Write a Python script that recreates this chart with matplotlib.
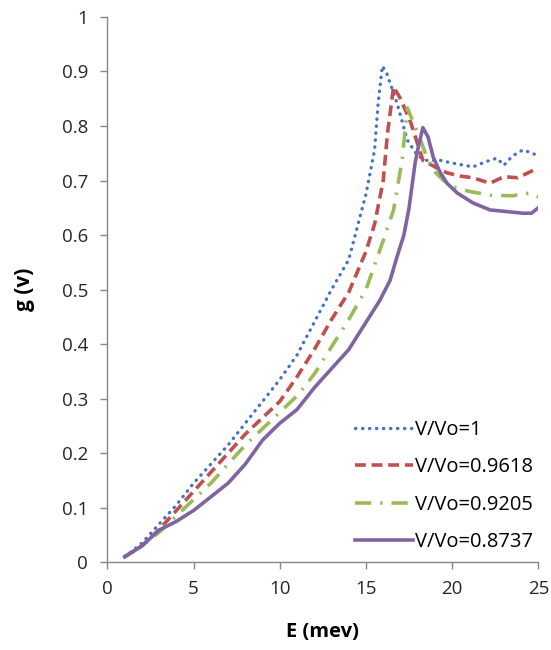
import matplotlib
matplotlib.use("Agg")
import matplotlib.pyplot as plt

# V/Vo = 1
x1 = [1, 2, 3, 4, 5, 6, 7, 8, 9, 10, 11, 12, 13, 14, 15, 15.5, 15.7, 15.95,
      16.2, 16.8, 17.4, 18, 18.5, 19.3, 20, 21.2, 22, 22.6, 23, 23.5, 24.1, 24.5, 25]
y1 = [0.01, 0.035, 0.07, 0.105, 0.145, 0.18, 0.215, 0.255, 0.295, 0.335, 0.38,
      0.44, 0.5, 0.555, 0.675, 0.756, 0.84, 0.91, 0.897, 0.842, 0.774, 0.745,
      0.737, 0.737, 0.732, 0.725, 0.735, 0.741, 0.728, 0.745, 0.756, 0.752, 0.745]

# V/Vo = 0.9618
x2 = [1, 2, 3, 4, 5, 6, 7, 8, 9, 10, 11, 12, 13, 14, 15, 15.5, 16, 16.25, 16.6,
      17, 17.6, 18.3, 19, 19.7, 20.5, 21.2, 22.2, 23, 23.8, 24.4, 25]
y2 = [0.01, 0.03, 0.06, 0.095, 0.13, 0.165, 0.2, 0.235, 0.265, 0.295, 0.34,
      0.39, 0.445, 0.495, 0.57, 0.62, 0.7, 0.787, 0.872, 0.85, 0.806, 0.737,
      0.725, 0.714, 0.708, 0.705, 0.695, 0.707, 0.705, 0.714, 0.723]

# V/Vo = 0.9205
x3 = [1, 2, 3, 4, 5, 6, 7, 8, 9, 10, 11, 12, 13, 14, 15, 16, 16.6, 17.1, 17.4,
      17.7, 18.1, 18.5, 18.9, 19.5, 20.1, 21, 22.2, 23.5, 24.5, 25]
y3 = [0.01, 0.03, 0.055, 0.085, 0.115, 0.145, 0.18, 0.215, 0.245, 0.275, 0.305,
      0.345, 0.395, 0.445, 0.5, 0.59, 0.646, 0.738, 0.833, 0.81, 0.78, 0.745,
      0.719, 0.70, 0.688, 0.68, 0.673, 0.672, 0.677, 0.67]

# V/Vo = 0.8737
x4 = [1, 2, 3, 4, 5, 6, 7, 8, 9, 10, 11, 12, 13, 14, 15, 15.8, 16.4, 16.8, 17.2,
      17.5, 17.85, 18.0, 18.3, 18.6, 18.9, 19.3, 19.7, 20.3, 21.2, 22.2, 23.5,
      24.1, 24.6, 25]
y4 = [0.01, 0.03, 0.059, 0.075, 0.095, 0.12, 0.145, 0.18, 0.224, 0.255, 0.28,
      0.32, 0.355, 0.39, 0.44, 0.48, 0.517, 0.56, 0.6, 0.65, 0.732, 0.756,
      0.797, 0.78, 0.743, 0.715, 0.695, 0.677, 0.659, 0.646, 0.642, 0.64, 0.64,
      0.65]

labels = ["V/Vo=1", "V/Vo=0.9618", "V/Vo=0.9205", "V/Vo=0.8737"]

plt.rcParams['font.family'] = ['Open Sans', 'DejaVu Sans']

fig = plt.figure(figsize=(5.51, 6.5), dpi=100)
ax = fig.add_axes([0.195, 0.135, 0.782, 0.839])

ax.plot(x1, y1, color='#4472C4', linewidth=2.4, linestyle=(0, (0.1, 2.0)),
        dash_capstyle='round', label=labels[0])
ax.plot(x2, y2, color='#C0504D', linewidth=2.6, linestyle=(0, (3.0, 1.6)),
        label=labels[1])
ax.plot(x3, y3, color='#9BBB59', linewidth=2.6,
        linestyle=(0, (4.5, 2.5, 0.6, 2.5)), label=labels[2])
ax.plot(x4, y4, color='#8064A2', linewidth=2.6, label=labels[3])

ax.set_xlim(0, 25)
ax.set_ylim(0, 1)
ax.set_xticks([0, 5, 10, 15, 20, 25])
ax.set_yticks([i / 10 for i in range(11)])
ax.set_yticklabels(["0", "0.1", "0.2", "0.3", "0.4", "0.5", "0.6", "0.7",
                    "0.8", "0.9", "1"])

for s in ['top', 'right']:
    ax.spines[s].set_visible(False)
for s in ['left', 'bottom']:
    ax.spines[s].set_color('#868686')
    ax.spines[s].set_linewidth(1.0)
ax.tick_params(axis='both', colors='#868686', labelcolor='#262626',
               labelsize=13.5, length=5, width=1.0, direction='out')
ax.tick_params(axis='x', pad=8)
ax.tick_params(axis='y', pad=9)

ax.set_xlabel("E (mev)", fontsize=14.5, fontweight='bold', va='center')
ax.set_ylabel("g (v)", fontsize=15, fontweight='bold', va='center')
ax.xaxis.set_label_coords(0.5, -0.127)
ax.yaxis.set_label_coords(-0.192, 0.5)

ax.legend(loc='lower right', bbox_to_anchor=(0.998, 0.012), frameon=False,
          fontsize=14.5, handlelength=2.9, handletextpad=0.1, labelspacing=0.85,
          borderaxespad=0.0, borderpad=0.2)

fig.savefig("out.png", dpi=100)
